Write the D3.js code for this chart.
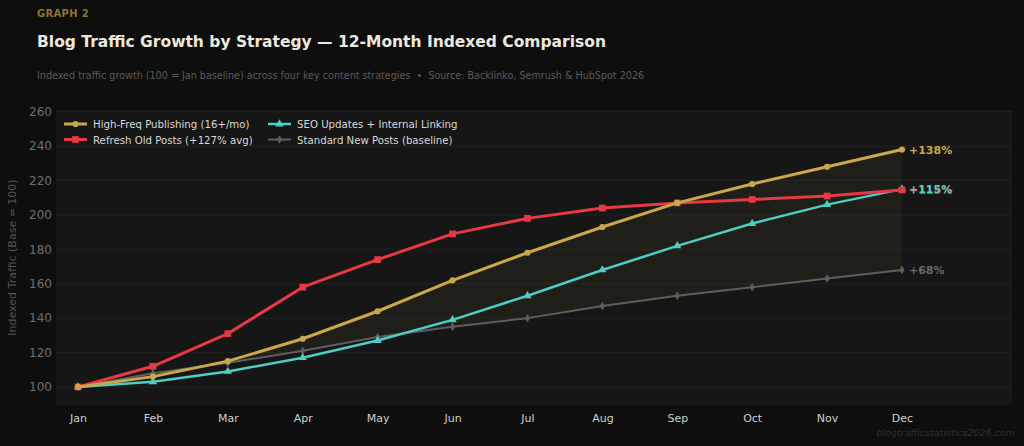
<!DOCTYPE html>
<html>
<head>
    <title>Blog Traffic Growth by Strategy</title>
    <script src="https://d3js.org/d3.v7.min.js"></script>
    <style>
        body {
            margin: 0;
            background: #0e0e0e;
            font-family: "DejaVu Sans", sans-serif;
        }
        svg { display: block; }
    </style>
</head>
<body>
    <div id="chart"></div>

    <script>
        const width = 1024;
        const height = 446;

        const months = ['Jan', 'Feb', 'Mar', 'Apr', 'May', 'Jun', 'Jul', 'Aug', 'Sep', 'Oct', 'Nov', 'Dec'];
        const highFreq = [100, 106, 115, 128, 144, 162, 178, 193, 207, 218, 228, 238];
        const refresh = [100, 112, 131, 158, 174, 189, 198, 204, 207, 209, 211, 214.5];
        const seoUpdates = [100, 103, 109, 117, 127, 139, 153, 168, 182, 195, 206, 215];
        const standard = [100, 108, 114, 121, 129, 135, 140, 147, 153, 158, 163, 168];
        const yTicks = [100, 120, 140, 160, 180, 200, 220, 240, 260];

        const series = [
            { name: 'Standard New Posts (baseline)', values: standard, color: '#5e5e5e', width: 2, symbol: d3.symbolDiamond, size: 22, label: '#6a6a6a' },
            { name: 'SEO Updates + Internal Linking', values: seoUpdates, color: '#4ecdc4', width: 2.5, symbol: d3.symbolTriangle, size: 30, label: '#4ecdc4' },
            { name: 'Refresh Old Posts (+127% avg)', values: refresh, color: '#e63946', width: 3, symbol: d3.symbolSquare, size: 45, label: '#e63946' },
            { name: 'High-Freq Publishing (16+/mo)', values: highFreq, color: '#c9a84c', width: 3, symbol: d3.symbolCircle, size: 30, label: '#c9a84c' }
        ];

        const plot = { left: 56, right: 1012, top: 110, bottom: 405 };

        const svg = d3.select('#chart').append('svg')
            .attr('width', width)
            .attr('height', height);

        svg.append('rect').attr('width', width).attr('height', height).attr('fill', '#0e0e0e');

        // header
        svg.append('text').attr('x', 37).attr('y', 17)
            .attr('font-size', 10).attr('font-weight', 'bold').attr('fill', '#8c7536')
            .attr('letter-spacing', 0.3)
            .text('GRAPH 2');
        svg.append('text').attr('x', 37).attr('y', 47)
            .attr('font-size', 15.5).attr('font-weight', 'bold').attr('fill', '#ece8df')
            .text('Blog Traffic Growth by Strategy — 12-Month Indexed Comparison');
        svg.append('text').attr('x', 37).attr('y', 79)
            .attr('font-size', 9.6).attr('fill', '#5a5a5a')
            .attr('xml:space', 'preserve')
            .style('white-space', 'pre')
            .text('Indexed traffic growth (100 = Jan baseline) across four key content strategies  •  Source: Backlinko, Semrush & HubSpot 2026');

        const x = d3.scalePoint().domain(months).range([78, 902]);
        const y = d3.scaleLinear().domain([89.5, 261]).range([plot.bottom, plot.top]);

        svg.append('rect')
            .attr('x', plot.left).attr('y', plot.top)
            .attr('width', plot.right - plot.left).attr('height', plot.bottom - plot.top)
            .attr('fill', '#161616');

        // grid
        svg.append('g').selectAll('line').data(yTicks).join('line')
            .attr('x1', plot.left).attr('x2', plot.right)
            .attr('y1', d => y(d)).attr('y2', d => y(d))
            .attr('stroke', '#222').attr('stroke-width', 1);

        // y axis
        const yAxis = svg.append('g')
            .attr('transform', `translate(${plot.left},0)`)
            .call(d3.axisLeft(y).tickValues(yTicks).tickSize(0).tickPadding(4));
        yAxis.select('.domain').remove();
        yAxis.selectAll('text').attr('fill', '#6e6e6e').attr('font-size', 12).attr('font-family', '"DejaVu Sans", sans-serif');

        // x axis
        const xAxis = svg.append('g')
            .attr('transform', `translate(0,${plot.bottom})`)
            .call(d3.axisBottom(x).tickSize(0).tickPadding(9));
        xAxis.select('.domain').remove();
        xAxis.selectAll('text').attr('fill', '#cfcfcf').attr('font-size', 11).attr('font-family', '"DejaVu Sans", sans-serif');

        svg.append('text')
            .attr('transform', `translate(16,${(plot.top + plot.bottom) / 2}) rotate(-90)`)
            .attr('text-anchor', 'middle')
            .attr('font-size', 11).attr('fill', '#555')
            .text('Indexed Traffic (Base = 100)');

        // shaded band between high-freq and baseline
        const band = d3.area()
            .x((d, i) => x(months[i]))
            .y0((d, i) => y(standard[i]))
            .y1(d => y(d));
        svg.append('path').datum(highFreq)
            .attr('d', band)
            .attr('fill', 'rgba(201,168,76,0.06)');

        const line = d3.line().x((d, i) => x(months[i])).y(d => y(d));

        series.forEach(s => {
            svg.append('path').datum(s.values)
                .attr('d', line)
                .attr('fill', 'none')
                .attr('stroke', s.color)
                .attr('stroke-width', s.width)
                .attr('stroke-linejoin', 'round');
            svg.append('g').selectAll('path').data(s.values).join('path')
                .attr('transform', (d, i) => `translate(${x(months[i])},${y(d)})`)
                .attr('d', d3.symbol().type(s.symbol).size(s.size))
                .attr('fill', s.color);
        });

        // end labels (teal drawn over red, as in the original)
        [series[0], series[2], series[1], series[3]].forEach(s => {
            const last = s.values[s.values.length - 1];
            svg.append('text')
                .attr('x', x(months[months.length - 1]) + 7)
                .attr('y', y(last) + 4)
                .attr('font-size', 11).attr('font-weight', 'bold')
                .attr('fill', s.label)
                .text(`+${Math.round(last - 100)}%`);
        });

        // legend
        const legendItems = [series[3], series[2], series[1], series[0]];
        const legend = svg.append('g');
        legendItems.forEach((s, i) => {
            const lx = 64 + Math.floor(i / 2) * 204;
            const ly = 124 + (i % 2) * 15.5;
            legend.append('line')
                .attr('x1', lx).attr('x2', lx + 23).attr('y1', ly).attr('y2', ly)
                .attr('stroke', s.color).attr('stroke-width', s.width);
            legend.append('path')
                .attr('transform', `translate(${lx + 11.5},${ly})`)
                .attr('d', d3.symbol().type(s.symbol).size(s.size))
                .attr('fill', s.color);
            legend.append('text')
                .attr('x', lx + 29).attr('y', ly + 4)
                .attr('font-size', 10.2).attr('fill', '#d8d8d8')
                .text(s.name);
        });

        svg.append('text')
            .attr('x', 1015).attr('y', 436)
            .attr('text-anchor', 'end')
            .attr('font-size', 9.5).attr('font-style', 'italic').attr('fill', '#2e2e2e')
            .text('blogtrafficstatistics2026.com');
    </script>
</body>
</html>
